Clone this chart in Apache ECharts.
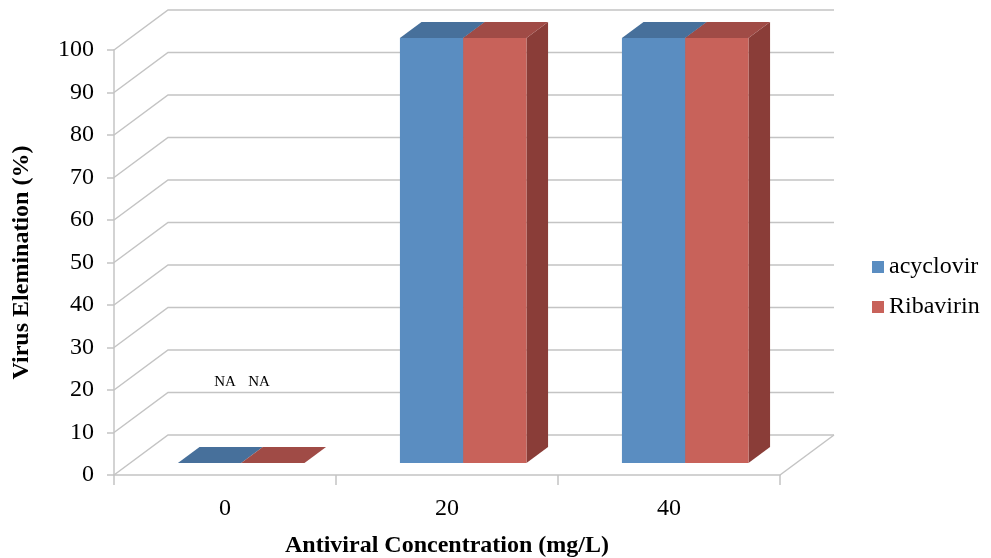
<!DOCTYPE html>
<html>
<head>
<meta charset="utf-8">
<script src="https://cdn.jsdelivr.net/npm/echarts@6/dist/echarts.min.js"></script>
<style>
html,body{margin:0;padding:0;background:#fff;}
#chart{width:991px;height:558px;}
</style>
</head>
<body>
<div id="chart"></div>
<script>
// ---- data ----
var categories = ['0', '20', '40'];
var acyclovir = [null, 100, 100];   // null = NA
var ribavirin = [null, 100, 100];   // null = NA
var yTicks = [0, 10, 20, 30, 40, 50, 60, 70, 80, 90, 100];

// ---- style ----
var FONT = '"Liberation Serif", "Times New Roman", serif';
var DEPTH = [54, -40];          // 3D depth vector (pixels)
var F0 = 0.3, F1 = 0.7;         // bar depth range (fraction of depth)
var BAR_FRAC = 0.285;           // bar width as fraction of category band
var GRID_COLOR = '#c4c4c4';

var palette = {
  acyclovir: { front: '#5a8dc1', top: '#47709b', side: '#3f6489', label: 0 },
  ribavirin: { front: '#c8625a', top: '#a04b46', side: '#8a3d38', label: 34 }
};

function toData(arr) {
  return arr.map(function (v, i) { return [i, v == null ? 0 : v, v == null ? 1 : 0]; });
}

function barRenderer(pal, offsetSign) {
  return function (params, api) {
    var cat = api.value(0), val = api.value(1), na = api.value(2);
    var base = api.coord([cat, 0]);
    var top = api.coord([cat, val]);
    var band = api.size([1, 0])[0];
    var bw = band * BAR_FRAC;
    var x0 = offsetSign < 0 ? base[0] - bw : base[0];
    var fx0 = DEPTH[0] * F0, fy0 = DEPTH[1] * F0;
    var fx1 = DEPTH[0] * F1, fy1 = DEPTH[1] * F1;
    var ty = top[1], by = base[1];
    var children = [];
    var topFace = {
      type: 'polygon',
      shape: { points: [[x0 + fx0, ty + fy0], [x0 + bw + fx0, ty + fy0], [x0 + bw + fx1, ty + fy1], [x0 + fx1, ty + fy1]] },
      style: { fill: pal.top }
    };
    if (na) {
      children.push(topFace);
      children.push({
        type: 'text',
        style: {
          text: 'NA', x: base[0] + pal.label, y: base[1] - 93,
          align: 'center', verticalAlign: 'middle',
          font: '15px ' + FONT, fill: '#000'
        }
      });
    } else {
      children.push({
        type: 'polygon',
        shape: { points: [[x0 + bw + fx0, ty + fy0], [x0 + bw + fx1, ty + fy1], [x0 + bw + fx1, by + fy1], [x0 + bw + fx0, by + fy0]] },
        style: { fill: pal.side }
      });
      children.push({
        type: 'rect',
        shape: { x: x0 + fx0, y: ty + fy0, width: bw, height: by - ty },
        style: { fill: pal.front }
      });
      children.push(topFace);
    }
    return { type: 'group', children: children };
  };
}

function gridRenderer(params, api) {
  var cs = params.coordSys;
  var v = api.value(1);
  var y = api.coord([0, v])[1];
  var xL = cs.x, xR = cs.x + cs.width;
  var children = [{
    type: 'polyline',
    shape: { points: [[xL, y], [xL + DEPTH[0], y + DEPTH[1]], [xR + DEPTH[0], y + DEPTH[1]]] },
    style: { stroke: GRID_COLOR, lineWidth: 1.5, fill: null }
  }];
  if (v === 0) {
    children.push({
      type: 'line',
      shape: { x1: xR, y1: y, x2: xR + DEPTH[0], y2: y + DEPTH[1] },
      style: { stroke: GRID_COLOR, lineWidth: 1.5 }
    });
  }
  return { type: 'group', children: children };
}

var chart = echarts.init(document.getElementById('chart'), null, { renderer: 'canvas' });
chart.setOption({
  animation: false,
  backgroundColor: '#fff',
  textStyle: { fontFamily: FONT },
  grid: { left: 114, right: 211, top: 50, bottom: 83, containLabel: false, outerBoundsMode: 'none' },
  legend: {
    orient: 'vertical',
    left: 867, top: 250,
    itemWidth: 12, itemHeight: 12, itemGap: 16,
    icon: 'rect',
    textStyle: { fontFamily: FONT, fontSize: 24, color: '#000' },
    data: ['acyclovir', 'Ribavirin']
  },
  xAxis: {
    type: 'category',
    data: categories,
    axisLine: { show: true, lineStyle: { color: GRID_COLOR, width: 1.5 } },
    axisTick: { show: true, length: 10, lineStyle: { color: GRID_COLOR, width: 1.5 } },
    axisLabel: { fontFamily: FONT, fontSize: 24, color: '#000', margin: 22 },
    name: 'Antiviral Concentration (mg/L)',
    nameLocation: 'middle',
    nameGap: 59,
    nameTextStyle: { fontFamily: FONT, fontSize: 24, fontWeight: 'bold', color: '#000' }
  },
  yAxis: {
    type: 'value',
    min: 0, max: 100, interval: 10,
    axisLine: { show: true, lineStyle: { color: GRID_COLOR, width: 1.5 } },
    axisTick: { show: true, length: 7, lineStyle: { color: GRID_COLOR, width: 1.5 } },
    axisLabel: { fontFamily: FONT, fontSize: 24, color: '#000', margin: 20 },
    splitLine: { show: false },
    name: 'Virus Elemination (%)',
    nameLocation: 'middle',
    nameGap: 80,
    nameRotate: 90,
    nameTextStyle: { fontFamily: FONT, fontSize: 24, fontWeight: 'bold', color: '#000' }
  },
  series: [
    {
      type: 'custom', name: 'grid3d', silent: true, z: 1,
      data: yTicks.map(function (t) { return [0, t]; }),
      encode: { x: 0, y: 1 },
      renderItem: gridRenderer
    },
    {
      type: 'custom', name: 'acyclovir', z: 2,
      itemStyle: { color: palette.acyclovir.front },
      data: toData(acyclovir),
      encode: { x: 0, y: 1 },
      renderItem: barRenderer(palette.acyclovir, -1)
    },
    {
      type: 'custom', name: 'Ribavirin', z: 3,
      itemStyle: { color: palette.ribavirin.front },
      data: toData(ribavirin),
      encode: { x: 0, y: 1 },
      renderItem: barRenderer(palette.ribavirin, 1)
    }
  ]
});
</script>
</body>
</html>
